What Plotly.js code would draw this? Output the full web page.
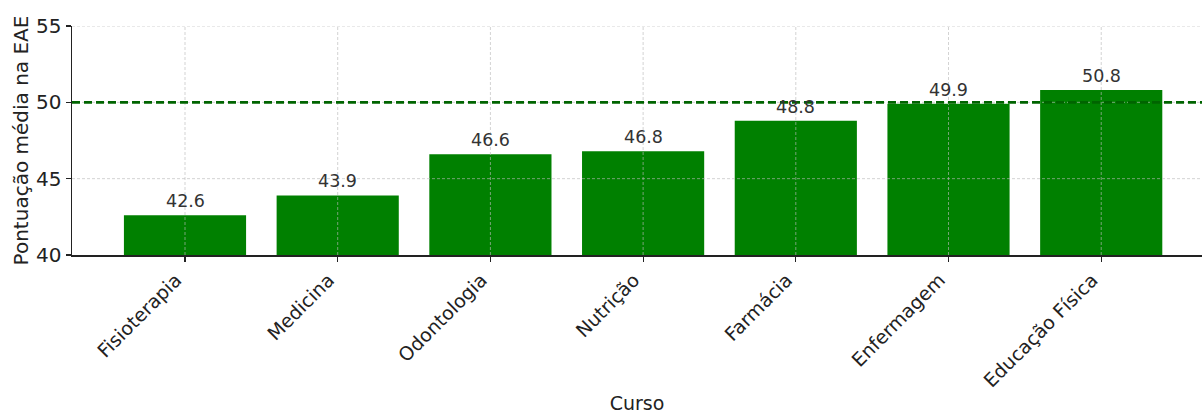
<!DOCTYPE html>
<html>
<head>
<meta charset="utf-8">
<script src="https://cdn.plot.ly/plotly-3.0.1.min.js"></script>
<style>html,body{margin:0;padding:0;background:#fff;}#chart{width:1202px;height:414px;}</style>
</head>
<body>
<div id="chart"></div>
<script>
const cursos = ["Fisioterapia", "Medicina", "Odontologia", "Nutrição", "Farmácia", "Enfermagem", "Educação Física"];
const pontuacao = [42.6, 43.9, 46.6, 46.8, 48.8, 49.9, 50.8];
const rotulos = ["42.6", "43.9", "46.6", "46.8", "48.8", "49.9", "50.8"];
const referencia = 50;
const yTicks = [40, 45, 50, 55];

const FONT = "DejaVu Sans, sans-serif";

const shapes = [];
cursos.forEach(c => {
  shapes.push({type: "line", xref: "x", yref: "paper", x0: c, x1: c, y0: 0, y1: 1,
    line: {color: "rgba(185,185,185,0.8)", width: 0.8, dash: "3px,2px"}, layer: "above"});
});
yTicks.slice(1).forEach(v => {
  shapes.push({type: "line", xref: "paper", yref: "y", x0: 0, x1: 1, y0: v, y1: v,
    line: {color: "rgba(185,185,185,0.8)", width: 0.8, dash: "3px,2px"}, layer: "above"});
});
shapes.push({type: "line", xref: "paper", yref: "y", x0: 0, x1: 1, y0: referencia, y1: referencia,
  line: {color: "#006400", width: 2.8, dash: "8px,4px"}, layer: "above"});

const annotations = cursos.map((c, i) => ({
  x: c, y: pontuacao[i], xref: "x", yref: "y", text: rotulos[i], showarrow: false,
  yanchor: "bottom", yshift: 2, font: {family: FONT, size: 17.5, color: "#333333"}
}));

const trace = {
  type: "bar", x: cursos, y: pontuacao,
  marker: {color: "#008000", line: {width: 0}},
  width: 0.8, hoverinfo: "skip"
};

const layout = {
  width: 1202, height: 414,
  margin: {l: 72, r: 0, t: 26, b: 159},
  paper_bgcolor: "#ffffff", plot_bgcolor: "#ffffff",
  showlegend: false,
  font: {family: FONT, color: "#222222"},
  xaxis: {
    type: "category", range: [-0.74, 6.66],
    showgrid: false, zeroline: false,
    showline: true, linecolor: "#222222", linewidth: 1.5,
    ticks: "outside", ticklen: 5, tickcolor: "#222222", tickwidth: 1.2,
    tickangle: -45, ticklabelshift: -9,
    tickfont: {family: FONT, size: 19, color: "#222222"},
    title: {text: "Curso", font: {family: FONT, size: 19, color: "#222222"}, standoff: 6}
  },
  yaxis: {
    range: [40, 55], tickvals: yTicks,
    showgrid: false, zeroline: false,
    showline: true, linecolor: "#222222", linewidth: 1.5,
    ticks: "outside", ticklen: 5, tickcolor: "#222222", tickwidth: 1.2,
    tickfont: {family: FONT, size: 20, color: "#222222"},
    title: {text: "Pontuação média na EAE", font: {family: FONT, size: 20, color: "#222222"}, standoff: 2}
  },
  shapes: shapes,
  annotations: annotations,
  bargap: 0.2
};

Plotly.newPlot("chart", [trace], layout, {displayModeBar: false, staticPlot: true});
</script>
</body>
</html>
